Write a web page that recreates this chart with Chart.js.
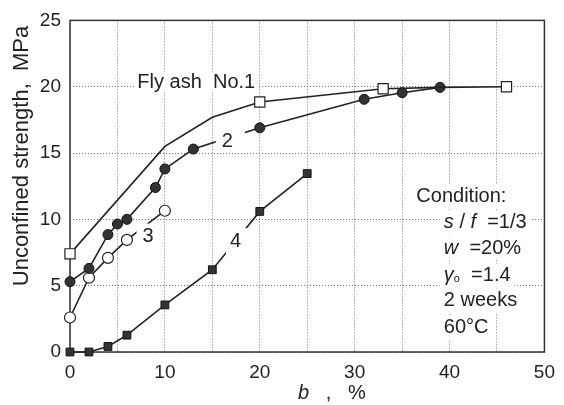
<!DOCTYPE html>
<html>
<head>
<meta charset="utf-8">
<script src="https://cdn.jsdelivr.net/npm/chart.js@4.4.0/dist/chart.umd.min.js"></script>
<style>
  html, body { margin: 0; padding: 0; background: #fff; }
  #wrap { width: 564px; height: 405px; }
</style>
</head>
<body>
<div id="wrap"><canvas id="c" width="564" height="405"></canvas></div>
<script>
// ---- data ----
const xTickLabels = [0, 10, 20, 30, 40, 50];
const yTickLabels = [0, 5, 10, 15, 20, 25];

// Fly ash No.1 (open squares; bends at 10, 15, 39 without markers)
const s1X = [0, 10, 15, 20, 33, 39, 46];
const s1Y = [7.4, 15.5, 17.7, 18.85, 19.85, 19.95, 20.0];
const s1Marked = [0, 3, 4, 6];

// 2 (filled circles)
const s2X = [0, 2, 4, 5, 6, 9, 10, 13, 20, 31, 35, 39];
const s2Y = [5.3, 6.3, 8.85, 9.65, 10.0, 12.4, 13.8, 15.3, 16.9, 19.05, 19.55, 19.95];

// 3 (open circles)
const s3X = [0, 2, 4, 6, 10];
const s3Y = [2.6, 5.6, 7.1, 8.45, 10.65];

// 4 (filled squares)
const s4X = [0, 2, 4, 6, 10, 15, 20, 25];
const s4Y = [0, 0, 0.42, 1.27, 3.55, 6.2, 10.6, 13.45];

const pts = (xs, ys) => xs.map((v, i) => ({ x: v, y: ys[i] }));

const FONT = '"Liberation Sans", Arial, Helvetica, sans-serif';
const INK = '#222';

const frameAndLabels = {
  id: 'frameAndLabels',
  beforeDatasetsDraw(chart) {
    const { ctx, chartArea: a } = chart;
    ctx.save();
    ctx.strokeStyle = '#333';
    ctx.lineWidth = 1.5;
    ctx.strokeRect(a.left, a.top, a.right - a.left, a.bottom - a.top);
    ctx.restore();
  },
  afterDatasetsDraw(chart) {
    const { ctx, scales: { x, y } } = chart;
    ctx.save();
    ctx.textBaseline = 'middle';
    ctx.textAlign = 'left';
    // runs: [text, font, dy]; box = [padLeft, padRight, padY]
    function runs(list, px, py, box) {
      let w = 0;
      list.forEach(r => { ctx.font = r[1]; w += ctx.measureText(r[0]).width; });
      if (box) {
        ctx.fillStyle = '#fff';
        ctx.fillRect(px - box[0], py - box[2], w + box[0] + box[1], 2 * box[2]);
      }
      ctx.fillStyle = INK;
      let cx = px;
      list.forEach(r => {
        ctx.font = r[1];
        ctx.fillText(r[0], cx, py + (r[2] || 0));
        cx += ctx.measureText(r[0]).width;
      });
      return w;
    }
    const N = '20px ' + FONT;
    const I = 'italic 20px ' + FONT;
    const P = (vx, vy) => [x.getPixelForValue(vx), y.getPixelForValue(vy)];

    let p;
    p = P(7.1, 20.35); runs([['Fly ash  No.1', N]], p[0], p[1], [3, 3, 10]);
    p = P(16.0, 15.9); runs([['2', N]], p[0], p[1], [6, 12, 11]);
    p = P(7.65, 8.7);  runs([['3', N]], p[0], p[1], [6, 5, 13]);
    p = P(16.85, 8.35); runs([['4', N]], p[0], p[1], [4, 7, 13]);

    p = P(36.5, 11.7); runs([['Condition:', N]], p[0], p[1], [3, 3, 12]);
    p = P(39.4, 9.78); runs([['s', I], [' / ', N], ['f', I], ['  =1/3', N]], p[0], p[1], [4, 4, 12]);
    p = P(39.4, 7.84); runs([['w', I], ['  =20%', N]], p[0], p[1], [4, 4, 12]);
    p = P(39.4, 5.75); runs([['γ', I], ['o', '11px ' + FONT, 3], ['  =1.4', N]], p[0], p[1], [4, 4, 12]);
    p = P(39.4, 3.88); runs([['2 weeks', N]], p[0], p[1], [4, 4, 12]);
    p = P(39.4, 1.87); runs([['60°C', N]], p[0], p[1], [4, 4, 12]);

    // x-axis title
    runs([['b', I], ['   ,   ', N], ['%', N]], 298, 393, null);

    // y-axis title (rotated)
    ctx.save();
    ctx.translate(22, 156);
    ctx.rotate(-Math.PI / 2);
    ctx.font = '22px ' + FONT;
    ctx.textAlign = 'center';
    ctx.fillStyle = INK;
    ctx.fillText('Unconfined strength,  MPa', 0, 0);
    ctx.restore();

    ctx.restore();
  }
};

const line = { borderColor: INK, borderWidth: 1.6, tension: 0, clip: false, showLine: true };

new Chart(document.getElementById('c'), {
  type: 'scatter',
  data: {
    datasets: [
      Object.assign({}, line, {
        label: 'Fly ash No.1', data: pts(s1X, s1Y),
        pointStyle: 'rect', backgroundColor: '#fff', pointBorderColor: INK, pointBorderWidth: 1.2,
        pointRadius: c => s1Marked.includes(c.dataIndex) ? 7.2 : 0
      }),
      Object.assign({}, line, {
        label: '2', data: pts(s2X, s2Y),
        pointStyle: 'circle', backgroundColor: '#333', pointBorderColor: '#111', pointBorderWidth: 1, pointRadius: 5
      }),
      Object.assign({}, line, {
        label: '3', data: pts(s3X, s3Y),
        pointStyle: 'circle', backgroundColor: '#fff', pointBorderColor: INK, pointBorderWidth: 1.2, pointRadius: 5.5
      }),
      Object.assign({}, line, {
        label: '4', data: pts(s4X, s4Y),
        pointStyle: 'rect', backgroundColor: '#333', pointBorderColor: '#111', pointBorderWidth: 1, pointRadius: 5.5
      })
    ]
  },
  options: {
    responsive: false,
    animation: false,
    events: [],
    layout: { padding: { top: 17, right: 17, left: 0, bottom: 0 } },
    plugins: { legend: { display: false }, tooltip: { enabled: false } },
    scales: {
      x: {
        type: 'linear', min: 0, max: 50,
        afterFit: s => { s.height = 53; },
        border: { display: false, dash: [1, 2] },
        grid: { color: '#777', lineWidth: 1, drawTicks: false },
        ticks: {
          stepSize: 5, padding: 9, color: INK, font: { size: 19, family: FONT },
          callback: v => xTickLabels.includes(v) ? String(v) : ''
        }
      },
      y: {
        type: 'linear', min: 0, max: 25,
        afterFit: s => { s.width = 70; },
        border: { display: false, dash: [1, 2] },
        grid: { color: '#777', lineWidth: 1, drawTicks: false },
        ticks: {
          stepSize: 5, padding: 9, color: INK, font: { size: 19, family: FONT },
          callback: v => yTickLabels.includes(v) ? String(v) : ''
        }
      }
    }
  },
  plugins: [frameAndLabels]
});
</script>
</body>
</html>
